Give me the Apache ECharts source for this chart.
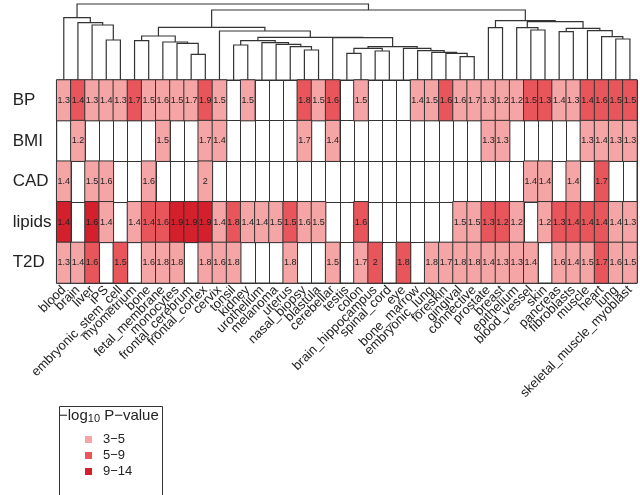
<!DOCTYPE html>
<html><head><meta charset="utf-8">
<script src="https://cdn.jsdelivr.net/npm/echarts@6/dist/echarts.min.js"></script>
<style>html,body{margin:0;padding:0;background:#fff}#c{width:640px;height:495px}</style>
</head><body><div id="c"></div>
<script>
// ---- data ----
const tissues = ['blood','brain','liver','iPS','embryonic_stem_cell','myometrium','bone','fetal_membrane','monocytes','frontal_cerebrum','frontal_cortex','cervix','tonsil','kidney','urothelium','melanoma','uterus','nasal_biopsy','blastula','cerebellar','testis','colon','brain_hippocampus','spinal_cord','eye','bone_marrow','embryonic_lung','foreskin','gingival','connective','prostate','breast','epithelium','blood_vessel','skin','pancreas','fibroblasts','muscle','heart','lung','skeletal_muscle_myoblast'];
const traits = ['BP','BMI','CAD','lipids','T2D'];
const _ = null;
// fold values shown in cells (null = not significant)
const valBP     = [1.3,1.4,1.3,1.4,1.3,1.7,1.5,1.6,1.5,1.7,1.9,1.5,_,1.5,_,_,_,1.8,1.5,1.6,_,1.5,_,_,_,1.4,1.5,1.6,1.6,1.7,1.3,1.2,1.2,1.5,1.3,1.4,1.3,1.4,1.6,1.5,1.5];
const valBMI    = [_,1.2,_,_,_,_,_,1.5,_,_,1.7,1.4,_,_,_,_,_,1.7,_,1.4,_,_,_,_,_,_,_,_,_,_,1.3,1.3,_,_,_,_,_,1.3,1.4,1.3,1.3];
const valCAD    = [1.4,_,1.5,1.6,_,_,1.6,_,_,_,2,_,_,_,_,_,_,_,_,_,_,_,_,_,_,_,_,_,_,_,_,_,_,1.4,1.4,_,1.4,_,1.7,_,_];
const valLipids = [1.4,_,1.6,1.4,_,1.4,1.4,1.6,1.9,1.9,1.9,1.4,1.8,1.4,1.4,1.5,1.5,1.6,1.5,_,_,1.6,_,_,_,_,_,_,1.5,1.5,1.3,1.2,1.2,_,1.2,1.3,1.4,1.4,1.4,1.4,1.3];
const valT2D    = [1.3,1.4,1.6,_,1.5,_,1.6,1.8,1.8,_,1.8,1.6,1.8,_,_,_,1.8,_,_,1.5,_,1.7,2,_,1.8,_,1.8,1.7,1.8,1.8,1.4,1.3,1.3,1.4,_,1.6,1.4,1.5,1.7,1.6,1.5];
// -log10 P class: 1 = 3-5, 2 = 5-9, 3 = 9-14, 0 = none
const clsBP     = [1,2,1,1,1,2,1,1,1,1,2,1,0,1,0,0,0,2,1,2,0,1,0,0,0,1,1,2,1,1,1,1,1,2,2,1,1,2,2,2,2];
const clsBMI    = [0,1,0,0,0,0,0,1,0,0,1,1,0,0,0,0,0,1,0,1,0,0,0,0,0,0,0,0,0,0,1,1,0,0,0,0,0,1,1,1,1];
const clsCAD    = [1,0,1,1,0,0,1,0,0,0,1,0,0,0,0,0,0,0,0,0,0,0,0,0,0,0,0,0,0,0,0,0,0,1,1,0,1,0,2,0,0];
const clsLipids = [3,0,3,1,0,1,2,2,3,3,3,1,2,1,1,1,2,1,1,0,0,2,0,0,0,0,0,0,1,1,2,2,1,0,1,2,2,2,2,1,1];
const clsT2D    = [1,1,2,0,2,0,1,1,1,0,1,1,1,0,0,0,1,0,0,1,0,1,2,0,2,0,1,1,1,1,1,1,1,1,0,1,1,1,2,1,1];
const classLabels = ['3\u22125','5\u22129','9\u221214'];
// dendrogram merges (R hclust style): negative = leaf (1-based), positive = earlier merge; third = height
const dendroMerge = [
 [-4,-5,40],[-3,1,55],[-2,2,57.3],[-1,3,62.3],
 [-6,-7,39.3],[-10,-11,25.7],[-9,6,36.7],[-8,7,38],[5,8,44],
 [-13,-14,35],[-18,-19,30],[-17,11,33.3],[-16,12,35.7],[-15,13,37.3],[10,14,39.3],
 [-21,-22,26.7],[-23,-24,29],[16,17,31.7],[-29,-30,23.3],[-28,19,26.7],[-27,20,27.7],[-26,21,29.3],[-25,22,31.7],[18,23,33.3],
 [-20,24,42.3],[15,25,42.6],[-12,26,49],[9,27,52.7],
 [-31,-32,52.3],[-34,-35,50],[-33,30,52.3],[-36,-37,48.3],[-40,-41,41],[-39,33,43.3],[-38,34,49.3],[32,35,51.7],[31,36,58.3],[29,37,59.3],
 [28,38,70],[4,39,76]
];

// ---- build ----
const valRows = [valBP,valBMI,valCAD,valLipids,valT2D];
const clsRows = [clsBP,clsBMI,clsCAD,clsLipids,clsT2D];
const heatData = [];
valRows.forEach((row, r) => row.forEach((v, c) => {
  if (v !== null) heatData.push([c, r, v, clsRows[r][c]]);
}));
const nodeX = [], nodeH = [];
function px(id){ return id < 0 ? (-id - 1) : nodeX[id - 1]; }
function ph(id){ return id < 0 ? 0 : nodeH[id - 1]; }
const dendroData = dendroMerge.map(m => {
  const xl = px(m[0]), xr = px(m[1]);
  const d = [xl, xr, ph(m[0]), ph(m[1]), m[2]];
  nodeX.push((xl + xr) / 2); nodeH.push(m[2]);
  return d;
});

const FONT = 'Liberation Sans, Arial, sans-serif';
const L = 56.7, R = 3;
const chart = echarts.init(document.getElementById('c'));
chart.setOption({
  animation: false,
  textStyle: {fontFamily: FONT},
  grid: [
    {left: L, right: R, top: 80, bottom: 212, show: true, borderColor: '#333', borderWidth: 1},
    {left: L, right: R, top: 4, height: 76}
  ],
  xAxis: [
    {type: 'category', gridIndex: 0, data: tissues,
     axisLine: {show: false},
     axisTick: {alignWithLabel: true, length: 5, lineStyle: {color: '#333'}},
     splitLine: {show: true, lineStyle: {color: '#333', width: 1}},
     axisLabel: {rotate: 45, interval: 0, fontSize: 13, color: '#222', margin: 5, fontFamily: FONT}},
    {type: 'value', gridIndex: 1, min: -0.5, max: 40.5, show: false}
  ],
  yAxis: [
    {type: 'category', gridIndex: 0, data: traits, inverse: true,
     axisLine: {show: false},
     axisTick: {alignWithLabel: true, length: 4, lineStyle: {color: '#333'}},
     splitLine: {show: true, lineStyle: {color: '#333', width: 1}},
     axisLabel: {fontSize: 17, color: '#222', margin: 44, align: 'left', fontFamily: FONT}},
    {type: 'value', gridIndex: 1, min: 0, max: 76, show: false}
  ],
  visualMap: {
    type: 'piecewise', seriesIndex: 0, dimension: 3, inverse: true,
    orient: 'vertical', left: 70, top: 418,
    itemWidth: 7, itemHeight: 7, itemGap: 3, textGap: 11, itemSymbol: 'rect',
    selectedMode: false,
    textStyle: {fontSize: 13, color: '#222', fontFamily: FONT},
    pieces: [
      {value: 1, label: classLabels[0], color: '#F5A5A5'},
      {value: 2, label: classLabels[1], color: '#E8565B'},
      {value: 3, label: classLabels[2], color: '#D41F2C'}
    ]
  },
  graphic: [
    {type: 'rect', left: 57, top: 404, shape: {width: 103, height: 100},
     style: {fill: 'none', stroke: '#333', lineWidth: 1}},
    {type: 'text', left: 59, top: 408,
     style: {text: '\u2212log{s|10} P\u2212value', fontSize: 15, fill: '#222', fontFamily: FONT,
       rich: {s: {fontSize: 11, verticalAlign: 'bottom', padding: [7, 0, 0, 0], fill: '#222', fontFamily: FONT}}}}
  ],
  series: [
    {type: 'heatmap', xAxisIndex: 0, yAxisIndex: 0, data: heatData,
     itemStyle: {borderColor: '#333', borderWidth: 1},
     label: {show: true, fontSize: 9, color: '#222', fontFamily: FONT,
       formatter: p => { const v = p.value[2]; return v % 1 === 0 ? String(v) : v.toFixed(1); }},
     emphasis: {disabled: true}},
    {type: 'custom', xAxisIndex: 1, yAxisIndex: 1, data: dendroData,
     encode: {x: [0, 1], y: [2, 3, 4]},
     renderItem: function (params, api) {
       const a = api.coord([api.value(0), api.value(2)]);
       const b = api.coord([api.value(0), api.value(4)]);
       const c = api.coord([api.value(1), api.value(4)]);
       const d = api.coord([api.value(1), api.value(3)]);
       return {type: 'polyline', shape: {points: [a, b, c, d]},
         style: {stroke: '#333', lineWidth: 1.2, fill: null}};
     }}
  ]
});
</script></body></html>
